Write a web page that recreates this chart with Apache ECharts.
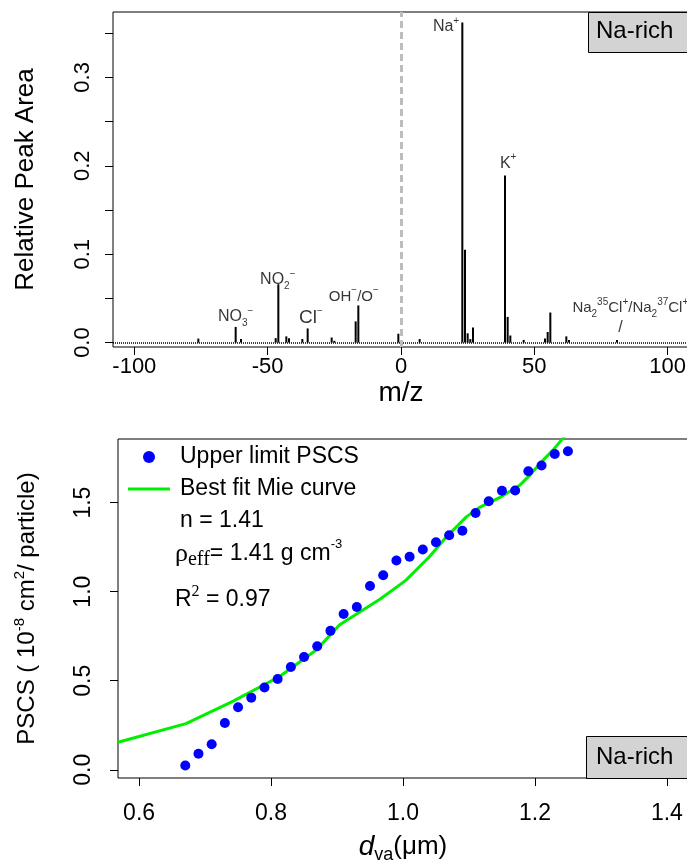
<!DOCTYPE html>
<html>
<head>
<meta charset="utf-8">
<script src="https://cdn.jsdelivr.net/npm/echarts@6/dist/echarts.min.js"></script>
<style>
  html, body { margin: 0; padding: 0; background: #fff; }
  #main { width: 687px; height: 866px; }
</style>
</head>
<body>
<div id="main"></div>
<script>
// 质谱峰 (m/z, 相对峰面积)
const mzValues = [-76, -62, -60, -47, -46, -43, -42, -37, -35, -26, -25, -17, -16, -1, 7,
  23, 24, 25, 26, 27, 39, 40, 41, 46, 54, 55, 56, 62, 63, 81];
const peakAreas = [0.0045, 0.0177, 0.004, 0.005, 0.066, 0.007, 0.005, 0.004, 0.016, 0.0057, 0.002, 0.024, 0.042, 0.010, 0.004,
  0.362, 0.105, 0.0105, 0.004, 0.017, 0.189, 0.029, 0.008, 0.003, 0.0045, 0.012, 0.034, 0.007, 0.003, 0.003];

// 峰标注
const labelMz = [16.9, 40.2, -46.2, -62, -33.8, -17.7, 86, 82.3];
const labelArea = [0.357, 0.203, 0.071, 0.029, 0.028, 0.052, 0.039, 0.017];
const labelText = [
  "{b|Na}{sup|+}",
  "{b|K}{sup|+}",
  "{b|NO}{sub|2}{sup|\u2212}",
  "{b|NO}{sub|3}{sup|\u2212}",
  "{c|Cl}{sup|\u2212}",
  "{s|OH}{sup|\u2212}{s|/O}{sup|\u2212}",
  "{n|Na}{sub|2}{sup|35}{n|Cl}{sup|+}{n|/Na}{sub|2}{sup|37}{n|Cl}{sup|+}",
  "{b|/}",
];

const xTicksTop = [-100, -50, 0, 50, 100];
const yTicksTop = [0, 0.05, 0.1, 0.15, 0.2, 0.25, 0.3, 0.35];
const yLabelsTop = [0, 0.1, 0.2, 0.3];

// PSCS 数据
const dva = [0.67, 0.69, 0.71, 0.73, 0.75, 0.77, 0.79, 0.81, 0.83, 0.85, 0.87, 0.89, 0.91, 0.93, 0.95,
  0.97, 0.99, 1.01, 1.03, 1.05, 1.07, 1.09, 1.11, 1.13, 1.15, 1.17, 1.19, 1.21, 1.23, 1.25];
const pscs = [0.024, 0.090, 0.143, 0.263, 0.351, 0.405, 0.462, 0.510, 0.577, 0.633, 0.694, 0.780, 0.875, 0.914, 1.032,
  1.092, 1.175, 1.196, 1.237, 1.277, 1.317, 1.342, 1.442, 1.508, 1.566, 1.568, 1.676, 1.708, 1.773, 1.788];

// Mie 拟合曲线
const mieX = [0.568, 0.671, 0.742, 0.813, 0.869, 0.904, 0.965, 0.995, 1.005, 1.040, 1.066, 1.096, 1.116, 1.147,
  1.177, 1.192, 1.212, 1.227, 1.241, 1.25];
const mieY = [0.155, 0.259, 0.384, 0.524, 0.674, 0.814, 0.957, 1.038, 1.066, 1.196, 1.308, 1.420, 1.473, 1.529,
  1.597, 1.653, 1.737, 1.793, 1.855, 1.9];

const xTicksBot = [0.6, 0.8, 1.0, 1.2, 1.4];
const yTicksBot = [0, 0.5, 1.0, 1.5];

const FONT = "Liberation Sans, Arial, sans-serif";
const SERIF = "Liberation Serif, Times New Roman, serif";

const myChart = echarts.init(document.getElementById("main"), null, { renderer: "canvas" });

const option = {
  animation: false,
  backgroundColor: "#fff",
  textStyle: { fontFamily: FONT, color: "#000" },
  grid: [
    { left: 113, top: 12, right: -2, height: 335, show: true, borderColor: "#000", borderWidth: 1,
      backgroundColor: "transparent", outerBoundsMode: "none" },
    { left: 118, top: 439, right: -1, height: 339, show: true, borderColor: "#000", borderWidth: 1,
      backgroundColor: "transparent", outerBoundsMode: "none" },
  ],
  xAxis: [
    {
      gridIndex: 0, type: "value", min: -108, max: 108,
      axisLine: { show: false, onZero: false },
      axisTick: { show: true, length: 8, lineStyle: { color: "#000", width: 1 }, customValues: xTicksTop },
      axisLabel: { customValues: xTicksTop, fontSize: 22, color: "#000", fontFamily: FONT, margin: 9 },
      splitLine: { show: false },
      name: "m/z", nameLocation: "middle", nameGap: 30,
      nameTextStyle: { fontSize: 28, color: "#000", fontFamily: FONT },
    },
    {
      gridIndex: 1, type: "value", min: 0.568, max: 1.432,
      axisLine: { show: false, onZero: false },
      axisTick: { show: true, length: 8, lineStyle: { color: "#000", width: 1 }, customValues: xTicksBot },
      axisLabel: { customValues: xTicksBot, fontSize: 23, color: "#000", fontFamily: FONT, margin: 24,
        formatter: (v) => v.toFixed(1) },
      splitLine: { show: false },
      name: "{i|d}{sub|va}{n|(\u03bcm)}", nameLocation: "middle", nameGap: 52,
      nameTextStyle: {
        rich: {
          i: { fontSize: 28, fontStyle: "italic", fontFamily: FONT, color: "#000", lineHeight: 34 },
          sub: { fontSize: 18, fontFamily: FONT, color: "#000", verticalAlign: "bottom" },
          n: { fontSize: 26, fontFamily: FONT, color: "#000", lineHeight: 34 },
        },
      },
    },
  ],
  yAxis: [
    {
      gridIndex: 0, type: "value", min: -0.005, max: 0.374,
      axisLine: { show: false, onZero: false },
      axisTick: { show: true, length: 8, lineStyle: { color: "#000", width: 1 }, customValues: yTicksTop },
      axisLabel: { customValues: yLabelsTop, fontSize: 22, color: "#000", fontFamily: FONT, margin: 19,
        rotate: 90, align: "center", verticalAlign: "bottom", formatter: (v) => v.toFixed(1) },
      splitLine: { show: false },
      name: "Relative Peak Area", nameLocation: "middle", nameGap: 74, nameRotate: 90,
      nameTextStyle: { fontSize: 26, color: "#000", fontFamily: FONT },
    },
    {
      gridIndex: 1, type: "value", min: -0.046, max: 1.857,
      axisLine: { show: false, onZero: false },
      axisTick: { show: true, length: 8, lineStyle: { color: "#000", width: 1 }, customValues: yTicksBot },
      axisLabel: { customValues: yTicksBot, fontSize: 23, color: "#000", fontFamily: FONT, margin: 23,
        rotate: 90, align: "center", verticalAlign: "bottom", formatter: (v) => v.toFixed(1) },
      splitLine: { show: false },
      name: "{t|PSCS ( 10}{sup|-8}{t| cm}{sup|2}{t|/ particle)}", nameLocation: "middle", nameGap: 76, nameRotate: 90,
      nameTextStyle: {
        rich: {
          t: { fontSize: 24, fontFamily: FONT, color: "#000", lineHeight: 30 },
          sup: { fontSize: 15, fontFamily: FONT, color: "#000", verticalAlign: "top" },
        },
      },
    },
  ],
  legend: {
    left: 128, top: 444, orient: "vertical", padding: 0, itemGap: 6,
    itemWidth: 42, itemHeight: 12, selectedMode: false,
    textStyle: { fontSize: 23, color: "#000", fontFamily: FONT, lineHeight: 26, padding: [0, 0, 0, 5] },
    data: [
      { name: "Upper limit PSCS", icon: "circle", itemStyle: { color: "#0000ff", opacity: 1 } },
      { name: "Best fit Mie curve", icon: "path://M0,0 L42,0 L42,3 L0,3 Z", itemStyle: { color: "#00ee00" } },
    ],
  },
  graphic: [
    { type: "rect", left: 588, top: 12, shape: { width: 110, height: 40 },
      style: { fill: "#d3d3d3", stroke: "#000", lineWidth: 1 }, z: 100 },
    { type: "text", left: 596, top: 19, z: 101,
      style: { text: "Na-rich", font: "24px " + FONT, fill: "#000" } },
    { type: "rect", left: 586, top: 736, shape: { width: 110, height: 42 },
      style: { fill: "#d3d3d3", stroke: "#000", lineWidth: 1 }, z: 100 },
    { type: "text", left: 596, top: 745, z: 101,
      style: { text: "Na-rich", font: "24px " + FONT, fill: "#000" } },
    { type: "text", left: 180, top: 509, z: 101,
      style: { text: "n = 1.41", font: "23px " + FONT, fill: "#000" } },
    { type: "text", left: 175, top: 538, z: 101,
      style: {
        text: "{r|\u03c1}{e|eff}{t|= 1.41 g cm}{s|-3}",
        rich: {
          r: { fontSize: 26, fontFamily: SERIF, fill: "#000", lineHeight: 32 },
          e: { fontSize: 20, fontFamily: SERIF, fill: "#000", verticalAlign: "bottom" },
          t: { fontSize: 23, fontFamily: FONT, fill: "#000", lineHeight: 32 },
          s: { fontSize: 13, fontFamily: FONT, fill: "#000", verticalAlign: "top" },
        },
      } },
    { type: "text", left: 175, top: 584, z: 101,
      style: {
        text: "{t|R}{s|2}{t| = 0.97}",
        rich: {
          t: { fontSize: 23, fontFamily: FONT, fill: "#000", lineHeight: 32 },
          s: { fontSize: 16, fontFamily: SERIF, fill: "#000", verticalAlign: "top" },
        },
      } },
  ],
  series: [
    {
      name: "peaks",
      type: "bar",
      xAxisIndex: 0, yAxisIndex: 0,
      barWidth: 2,
      itemStyle: { color: "#000" },
      data: mzValues.map((m, i) => [m, peakAreas[i]]),
      markLine: {
        silent: true, symbol: ["none", "none"], label: { show: false },
        data: [
          { yAxis: 0, lineStyle: { type: [1, 1], color: "#000", width: 1.5 } },
          { xAxis: 0, lineStyle: { type: [7, 4], color: "#bdbdbd", width: 3 } },
        ],
      },
    },
    {
      name: "labels",
      type: "scatter",
      xAxisIndex: 0, yAxisIndex: 0,
      symbolSize: 0,
      silent: true,
      data: labelMz.map((m, i) => [m, labelArea[i]]),
      label: {
        show: true, position: "inside", color: "#000",
        formatter: (p) => labelText[p.dataIndex],
        rich: {
          b: { fontSize: 16, fontFamily: FONT, color: "#000", lineHeight: 22 },
          c: { fontSize: 19, fontFamily: FONT, color: "#000", lineHeight: 24 },
          s: { fontSize: 15, fontFamily: FONT, color: "#000", lineHeight: 22 },
          n: { fontSize: 15, fontFamily: FONT, color: "#000", lineHeight: 22 },
          sup: { fontSize: 10, fontFamily: FONT, color: "#000", verticalAlign: "top" },
          sub: { fontSize: 10, fontFamily: FONT, color: "#000", verticalAlign: "bottom" },
        },
      },
    },
    {
      name: "Upper limit PSCS",
      type: "scatter",
      xAxisIndex: 1, yAxisIndex: 1,
      symbol: "circle",
      symbolSize: 10,
      itemStyle: { color: "#0000ff", opacity: 1 },
      data: dva.map((d, i) => [d, pscs[i]]),
      z: 3,
    },
    {
      name: "Best fit Mie curve",
      type: "line",
      xAxisIndex: 1, yAxisIndex: 1,
      symbol: "none",
      showSymbol: false,
      clip: true,
      lineStyle: { color: "#00ee00", width: 3 },
      itemStyle: { color: "#00ee00" },
      data: mieX.map((d, i) => [d, mieY[i]]),
      z: 2,
    },
  ],
};

myChart.setOption(option);
</script>
</body>
</html>
